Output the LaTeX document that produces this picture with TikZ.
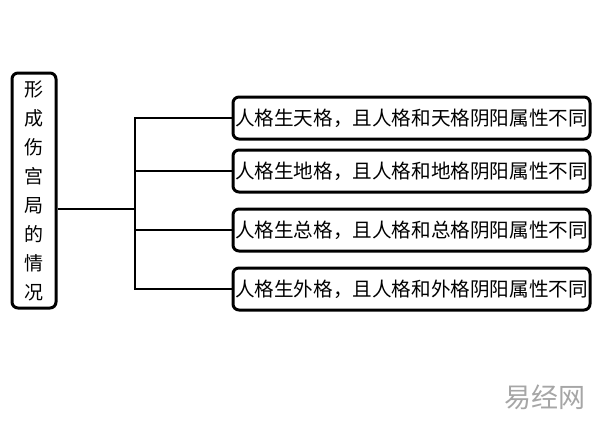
\documentclass[tikz,border=0pt]{standalone}
\usepackage{fontspec}
\newfontfamily\cjk{Noto Sans CJK SC}
\usetikzlibrary{positioning, calc}

\tikzset{
    mainbox/.style={draw, rectangle, rounded corners=6pt, line width=3pt, minimum width=44pt, minimum height=235pt, inner sep=0pt, align=center, font=\cjk\fontsize{19}{29}\selectfont},
    branchbox/.style={draw, rectangle, rounded corners=6pt, line width=3pt, minimum width=357pt, minimum height=42pt, inner sep=0pt, font=\cjk\fontsize{19.6}{24}\selectfont},
    link/.style={line width=1.8pt}
}

\begin{document}
\begin{tikzpicture}[x=1pt, y=-1pt]
        \useasboundingbox (0,0) rectangle (600,421);

        % Left box
        \node[mainbox] (lbox) at (34, 190.5) {形\\成\\伤\\宫\\局\\的\\情\\况};

        % Branch boxes
        \foreach \i/\y/\g in {1/118/天, 2/171/地, 3/230/总, 4/289/外} {
            \node[branchbox] (b\i) at (411.5, \y) {人格生\g 格，且人格和\g 格阴阳属性不同};
        }

        % Lines
        \coordinate (hub) at (135, 209);
        \draw[link] (lbox.east |- hub) -- (hub);
        \draw[link] (b1.west) -- (b1.west -| hub) -- (b4.west -| hub) -- (b4.west);
        \draw[link] (b2.west) -- (b2.west -| hub);
        \draw[link] (b3.west) -- (b3.west -| hub);

        % Watermark
        \node[font=\cjk\fontsize{27}{30}\selectfont, text=gray!70] (mark) at (545, 397) {易经网};
    \end{tikzpicture}
\end{document}
